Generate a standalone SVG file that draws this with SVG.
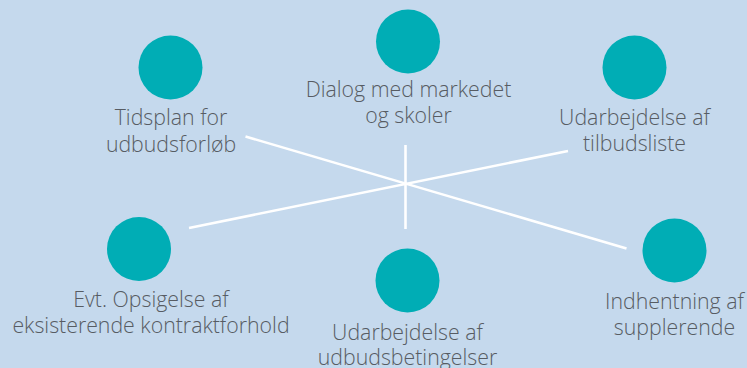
<svg xmlns="http://www.w3.org/2000/svg" width="747" height="368" viewBox="0 0 747 368">
<style>
.bg{fill:#c5d9ed}
.dot{fill:#00adb5}
.lbl{font-family:"Open Sans","Lato","Liberation Sans",sans-serif;font-size:21.3px;font-weight:300;fill:#575c63;text-anchor:middle}
.con{stroke:#ffffff;stroke-width:2.6;fill:none;stroke-linecap:butt}
</style>
<rect class="bg" x="0" y="0" width="747" height="368"/>
<g id="connectors">
<line class="con" x1="245.5" y1="136.5" x2="626.5" y2="248.5"/>
<line class="con" x1="189" y1="228" x2="568" y2="151"/>
<line class="con" x1="405.5" y1="145" x2="405.5" y2="229"/>
</g>
<g id="node-tidsplan">
<circle class="dot" cx="170.5" cy="67.5" r="32"/>
<text class="lbl" x="171" y="125">Tidsplan for</text>
<text class="lbl" x="171" y="151.5">udbudsforløb</text>
</g>
<g id="node-dialog">
<circle class="dot" cx="408" cy="41.5" r="32"/>
<text class="lbl" x="408.5" y="96.5">Dialog med markedet</text>
<text class="lbl" x="408.5" y="122.5">og skoler</text>
</g>
<g id="node-tilbudsliste">
<circle class="dot" cx="634.5" cy="67.5" r="32"/>
<text class="lbl" x="634.5" y="125">Udarbejdelse af</text>
<text class="lbl" x="634.5" y="151">tilbudsliste</text>
</g>
<g id="node-opsigelse">
<circle class="dot" cx="139" cy="249" r="32"/>
<text class="lbl" x="151" y="307">Evt. Opsigelse af</text>
<text class="lbl" x="151" y="333">eksisterende kontraktforhold</text>
</g>
<g id="node-udbudsbetingelser">
<circle class="dot" cx="407.5" cy="280.5" r="32"/>
<text class="lbl" x="407.5" y="339.5">Udarbejdelse af</text>
<text class="lbl" x="407.5" y="365">udbudsbetingelser</text>
</g>
<g id="node-indhentning">
<circle class="dot" cx="674.5" cy="250.5" r="32"/>
<text class="lbl" x="674.5" y="309">Indhentning af</text>
<text class="lbl" x="674.5" y="334.5">supplerende</text>
</g>
</svg>
